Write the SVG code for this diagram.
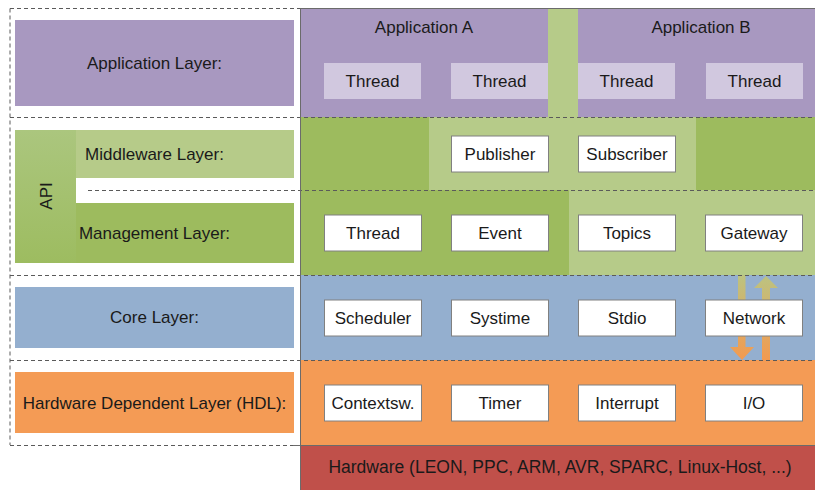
<svg xmlns="http://www.w3.org/2000/svg" width="815" height="490" viewBox="0 0 815 490">
<defs>
<style>
text{font-family:"Liberation Sans",Arial,sans-serif;fill:#1a1a1a;text-anchor:middle}
.lbl{font-size:17px}
.bx{font-size:17px}
.wb{fill:#ffffff;stroke:#808080;stroke-width:1}
.tb{fill:#d1c8df}
.dash{stroke:#5a5a5a;stroke-width:1;stroke-dasharray:4 3;fill:none}
.solid{stroke:#6b6b6b;stroke-width:1;fill:none}
</style>
<linearGradient id="apiG" x1="0" y1="0" x2="0" y2="1">
<stop offset="0" stop-color="#abc67e"/>
<stop offset="1" stop-color="#9dbc60"/>
</linearGradient>
<linearGradient id="arrG" x1="0" y1="0" x2="0" y2="1">
<stop offset="0" stop-color="#bcc380"/>
<stop offset="1" stop-color="#f39a50"/>
</linearGradient>
</defs>
<rect width="815" height="490" fill="#ffffff"/>

<!-- right panel backgrounds -->
<g id="bands">
<rect x="300" y="8" width="515" height="109" fill="#a898c0"/>
<rect x="548" y="8" width="30" height="109" fill="#b6cb89"/>
<rect x="300" y="117" width="515" height="73" fill="#9dbb5e"/>
<rect x="429" y="117" width="267" height="73" fill="#b6cb89"/>
<rect x="300" y="190" width="515" height="85" fill="#b6cb89"/>
<rect x="300" y="190" width="269" height="85" fill="#9dbb5e"/>
<rect x="300" y="275" width="515" height="85" fill="#94afcf"/>
<rect x="300" y="360" width="515" height="85" fill="#f49b55"/>
<rect x="300" y="445" width="515" height="45" fill="#c0504a"/>
</g>

<!-- connectors and lines -->
<g id="connectors">
<polygon points="738,275 745.5,275 745.5,347 754,347 742,360 730,347 738,347" fill="url(#arrG)"/>
<polygon points="766,276 778,288 770,288 770,360 762,360 762,288 754,288" fill="url(#arrG)"/>
<path class="dash" d="M10,8.5V445 M10,117.5H815 M88,190.5H815 M10,275.5H815 M10,360.5H815 M10,445.5H293 M10,8.5H300"/>
<path class="solid" d="M300.5,8.5H815 M300.5,8V490 M293,445.5H815"/>
</g>

<!-- left labels -->
<g id="app-layer"><rect x="15" y="20" width="279" height="86" fill="#a898c0"/><text class="lbl" x="154.5" y="69">Application Layer:</text></g>
<g id="api"><rect x="15" y="130" width="61" height="133" fill="url(#apiG)"/><text class="lbl" transform="translate(52,196) rotate(-90)">API</text></g>
<g id="middleware-layer"><rect x="76" y="130" width="218" height="48" fill="#b6cb89"/><text class="lbl" x="154.5" y="160">Middleware Layer:</text></g>
<g id="management-layer"><rect x="76" y="203" width="218" height="60" fill="#9dbb5e"/><text class="lbl" x="154.5" y="239">Management Layer:</text></g>
<g id="core-layer"><rect x="15" y="287" width="279" height="61" fill="#94afcf"/><text class="lbl" x="154.5" y="323">Core Layer:</text></g>
<g id="hdl-layer"><rect x="15" y="372" width="279" height="61" fill="#f49b55"/><text class="lbl" x="154.5" y="409">Hardware Dependent Layer (HDL):</text></g>

<!-- application headings -->
<g id="app-a"><text class="bx" x="424" y="33">Application A</text></g>
<g id="app-b"><text class="bx" x="701" y="33">Application B</text></g>

<!-- thread boxes -->
<g id="thread-a1"><rect class="tb" x="324" y="63" width="97" height="36"/><text class="bx" x="372.5" y="87">Thread</text></g>
<g id="thread-a2"><rect class="tb" x="451" y="63" width="97" height="36"/><text class="bx" x="499.5" y="87">Thread</text></g>
<g id="thread-b1"><rect class="tb" x="578" y="63" width="97" height="36"/><text class="bx" x="626.5" y="87">Thread</text></g>
<g id="thread-b2"><rect class="tb" x="706" y="63" width="97" height="36"/><text class="bx" x="754.5" y="87">Thread</text></g>

<!-- middleware -->
<g id="publisher"><rect class="wb" x="451.5" y="136" width="97" height="36"/><text class="bx" x="500" y="160">Publisher</text></g>
<g id="subscriber"><rect class="wb" x="578.5" y="136" width="97" height="36"/><text class="bx" x="627" y="160">Subscriber</text></g>

<!-- management -->
<g id="m-thread"><rect class="wb" x="324.5" y="215" width="97" height="36"/><text class="bx" x="373" y="239">Thread</text></g>
<g id="event"><rect class="wb" x="451.5" y="215" width="97" height="36"/><text class="bx" x="500" y="239">Event</text></g>
<g id="topics"><rect class="wb" x="578.5" y="215" width="97" height="36"/><text class="bx" x="627" y="239">Topics</text></g>
<g id="gateway"><rect class="wb" x="705.5" y="215" width="97" height="36"/><text class="bx" x="754" y="239">Gateway</text></g>

<!-- core -->
<g id="scheduler"><rect class="wb" x="324.5" y="300" width="97" height="36"/><text class="bx" x="373" y="324">Scheduler</text></g>
<g id="systime"><rect class="wb" x="451.5" y="300" width="97" height="36"/><text class="bx" x="500" y="324">Systime</text></g>
<g id="stdio"><rect class="wb" x="578.5" y="300" width="97" height="36"/><text class="bx" x="627" y="324">Stdio</text></g>
<g id="network"><rect class="wb" x="705.5" y="300" width="97" height="36"/><text class="bx" x="754" y="324">Network</text></g>

<!-- hdl -->
<g id="contextsw"><rect class="wb" x="324.5" y="385" width="97" height="36"/><text class="bx" x="373" y="409">Contextsw.</text></g>
<g id="timer"><rect class="wb" x="451.5" y="385" width="97" height="36"/><text class="bx" x="500" y="409">Timer</text></g>
<g id="interrupt"><rect class="wb" x="578.5" y="385" width="97" height="36"/><text class="bx" x="627" y="409">Interrupt</text></g>
<g id="io"><rect class="wb" x="705.5" y="385" width="97" height="36"/><text class="bx" x="754" y="409">I/O</text></g>

<!-- hardware -->
<g id="hardware"><text style="font-size:17.5px" x="560" y="473">Hardware (LEON, PPC, ARM, AVR, SPARC, Linux-Host, ...)</text></g>
</svg>
